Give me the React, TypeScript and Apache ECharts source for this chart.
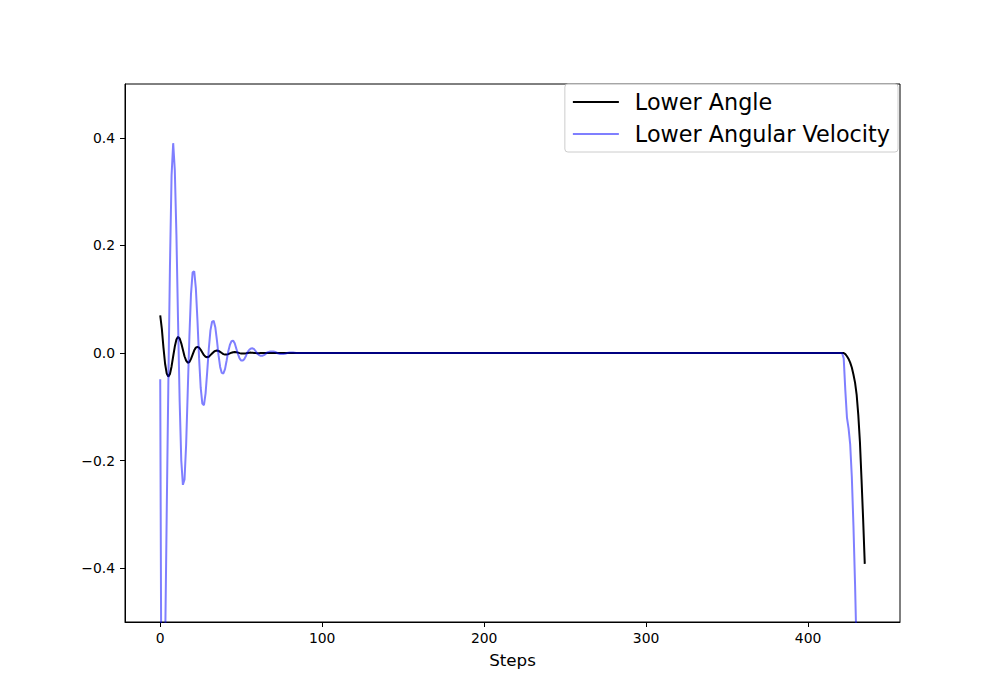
import React, { useEffect, useRef } from 'react';
import * as echarts from 'echarts';

// steps 0..66 (one value per step), then flat at 0 until the tail
const angleHead = [
  0.07, 0.045, 0.01, -0.02, -0.038, -0.044, -0.039, -0.025, -0.006, 0.012,
  0.025, 0.03, 0.027, 0.018, 0.006, -0.006, -0.014, -0.018, -0.017, -0.011,
  -0.003, 0.005, 0.01, 0.0115, 0.01, 0.006, 0.001, -0.004, -0.007, -0.008,
  -0.007, -0.004, -0.001, 0.002, 0.004, 0.0048, 0.004, 0.002, 0.0, -0.002,
  -0.003, -0.003, -0.002, -0.0007, 0.0006, 0.0015, 0.0018, 0.0015, 0.0007, -0.0002,
  -0.0009, -0.0011, -0.0009, -0.0004, 0.0002, 0.0006, 0.0007, 0.0005, 0.0001, -0.0002,
  -0.0004, -0.0003, -0.0001, 0.0001, 0.0002, 0.0001, 0,
];

// steps 0..85
const velocityHead = [
  -0.049, -0.9, -0.85, -0.55, -0.3, -0.06, 0.16, 0.33, 0.39, 0.34,
  0.22, 0.06, -0.09, -0.2, -0.245, -0.235, -0.17, -0.07, 0.03, 0.11,
  0.15, 0.152, 0.12, 0.06, -0.01, -0.065, -0.094, -0.097, -0.075, -0.035,
  0.008, 0.042, 0.058, 0.06, 0.048, 0.024, -0.004, -0.026, -0.037, -0.038,
  -0.03, -0.014, 0.003, 0.015, 0.022, 0.023, 0.018, 0.008, -0.002, -0.01,
  -0.014, -0.014, -0.011, -0.005, 0.002, 0.006, 0.0085, 0.0087, 0.007, 0.003,
  -0.001, -0.004, -0.005, -0.005, -0.004, -0.002, 0.001, 0.002, 0.003, 0.003,
  0.003, 0.002, 0.0005, -0.001, -0.0018, -0.002, -0.002, -0.0015, -0.0005, 0.0003,
  0.0008, 0.001, 0.001, 0.0006, 0.0002, 0,
];

// steps 421..435
const TAIL_START = 421;
const angleTail = [
  0, 0, -0.002, -0.006, -0.011, -0.018, -0.027, -0.04, -0.055, -0.078,
  -0.115, -0.165, -0.235, -0.31, -0.392,
];
const velocityTail = [
  0, -0.01, -0.07, -0.12, -0.14, -0.17, -0.23, -0.32, -0.43, -0.56,
  -0.72, -0.92, -1.18, -1.5, -1.9,
];

const xTicks = [0, 100, 200, 300, 400];
const yTicks = [-0.4, -0.2, 0, 0.2, 0.4];

const FONT = 'DejaVu Sans';

const toPairs = (head: number[], tail: number[]) => [
  ...head.map((v, i) => [i, v]),
  ...tail.map((v, i) => [TAIL_START + i, v]),
];

const fmtY = (v: number) => (v < 0 ? '\u2212' : '') + Math.abs(v).toFixed(1);

const App: React.FC = () => {
  const chartRef = useRef<HTMLDivElement>(null);

  useEffect(() => {
    if (!chartRef.current) return;
    const chart = echarts.init(chartRef.current, undefined, { renderer: 'svg' });

    const option = {
      animation: false,
      backgroundColor: '#fff',
      textStyle: { fontFamily: FONT },
      grid: {
        left: 125,
        right: 100,
        top: 84,
        bottom: 78,
        show: true,
        borderColor: '#000',
        borderWidth: 1,
        backgroundColor: 'transparent',
        outerBoundsMode: 'none',
      },
      legend: {
        orient: 'vertical',
        right: 102,
        top: 84,
        padding: [7, 8, 7, 8],
        itemWidth: 46,
        itemHeight: 2,
        itemGap: 10,
        backgroundColor: 'rgba(255,255,255,0.8)',
        borderColor: '#cccccc',
        borderWidth: 1,
        borderRadius: 3,
        textStyle: {
          fontFamily: FONT,
          fontSize: 22.3,
          lineHeight: 22,
          color: '#000',
          padding: [0, 0, 0, 11],
        },
        data: [
          { name: 'Lower Angle', icon: 'rect' },
          { name: 'Lower Angular Velocity', icon: 'rect' },
        ],
      },
      xAxis: {
        type: 'value',
        min: -21.75,
        max: 456.75,
        name: 'Steps',
        nameLocation: 'middle',
        nameGap: 29,
        nameTextStyle: { fontFamily: FONT, fontSize: 16.7, color: '#000' },
        splitLine: { show: false },
        axisLine: { show: true, onZero: false, lineStyle: { color: '#000', width: 1 } },
        axisTick: { show: true, length: 5, customValues: xTicks, lineStyle: { color: '#000' } },
        axisLabel: {
          customValues: xTicks,
          margin: 9,
          fontFamily: FONT,
          fontSize: 13.9,
          color: '#000',
          formatter: (v: number) => String(v),
        },
      },
      yAxis: {
        type: 'value',
        min: -0.5,
        max: 0.5,
        splitLine: { show: false },
        axisLine: { show: true, onZero: false, lineStyle: { color: '#000', width: 1 } },
        axisTick: { show: true, length: 5, customValues: yTicks, lineStyle: { color: '#000' } },
        axisLabel: {
          customValues: yTicks,
          margin: 10,
          fontFamily: FONT,
          fontSize: 13.9,
          color: '#000',
          formatter: fmtY,
        },
      },
      series: [
        {
          name: 'Lower Angle',
          type: 'line',
          data: toPairs(angleHead, angleTail),
          color: '#000000',
          showSymbol: false,
          symbol: 'none',
          clip: true,
          lineStyle: { width: 2, color: '#000000' },
        },
        {
          name: 'Lower Angular Velocity',
          type: 'line',
          data: toPairs(velocityHead, velocityTail),
          color: 'rgba(0,0,255,0.5)',
          showSymbol: false,
          symbol: 'none',
          clip: true,
          lineStyle: { width: 2, color: 'rgba(0,0,255,0.5)' },
        },
      ],
    };

    chart.setOption(option);
    return () => chart.dispose();
  }, []);

  return (
    <div
      ref={chartRef}
      style={{ position: 'fixed', left: 0, top: 0, width: 1000, height: 700, background: '#fff' }}
    />
  );
};

export default App;
